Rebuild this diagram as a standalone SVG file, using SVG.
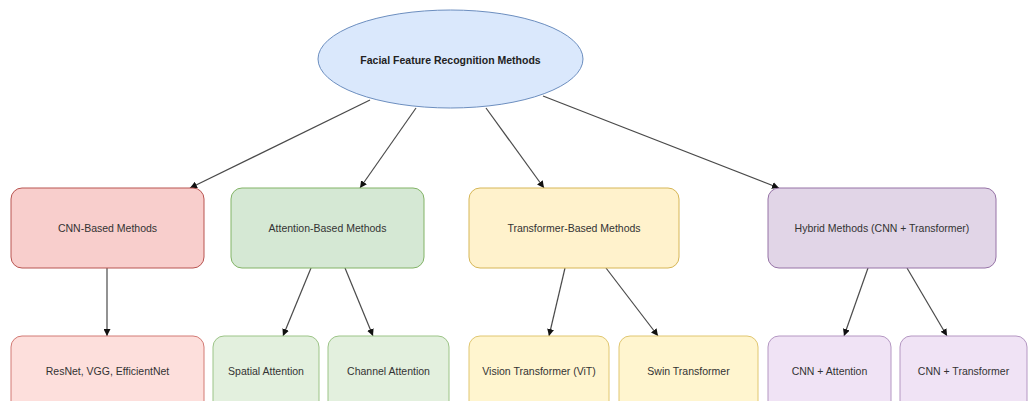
<svg xmlns="http://www.w3.org/2000/svg" width="1029" height="401" viewBox="0 0 1029 401">
  <style>
    text { font-family: "Liberation Sans", Arial, sans-serif; font-size: 10.5px; fill: #333333; text-anchor: middle; dominant-baseline: central; }
    .title { font-weight: bold; fill: #222222; }
    .edge { stroke: #4a4a4a; stroke-width: 1.2; fill: none; marker-end: url(#arrow); }
    .red { fill: #f8cecc; stroke: #b85450; }
    .red2 { fill: #fddfdc; stroke: #d27a74; }
    .green { fill: #d5e8d4; stroke: #82b366; }
    .green2 { fill: #e3f0de; stroke: #9cc487; }
    .yellow { fill: #fff2cc; stroke: #d6b656; }
    .yellow2 { fill: #fff5cf; stroke: #e0c670; }
    .purple { fill: #e1d5e7; stroke: #9673a6; }
    .purple2 { fill: #f0e3f5; stroke: #b497c2; }
    rect, ellipse { stroke-width: 1; }
  </style>
  <defs>
    <marker id="arrow" viewBox="0 0 10 10" refX="10" refY="5" markerWidth="7" markerHeight="7" markerUnits="userSpaceOnUse" orient="auto">
      <path d="M0,0 L10,5 L0,10 Z" fill="#111111"/>
    </marker>
  </defs>

  <rect width="1029" height="401" fill="#ffffff"/>

  <!-- connectors -->
  <g id="connectors">
    <line class="edge" x1="370" y1="100" x2="190" y2="188"/>
    <line class="edge" x1="416" y1="108" x2="360" y2="188"/>
    <line class="edge" x1="486" y1="108" x2="544" y2="188"/>
    <line class="edge" x1="543" y1="96" x2="779" y2="188"/>
    <line class="edge" x1="107" y1="268" x2="107" y2="336"/>
    <line class="edge" x1="311" y1="268" x2="283" y2="336"/>
    <line class="edge" x1="345" y1="268" x2="373" y2="336"/>
    <line class="edge" x1="565" y1="268" x2="549" y2="336"/>
    <line class="edge" x1="606" y1="268" x2="658" y2="336"/>
    <line class="edge" x1="868" y1="268" x2="844" y2="336"/>
    <line class="edge" x1="907" y1="268" x2="947" y2="336"/>
  </g>

  <!-- root -->
  <g id="root">
    <ellipse cx="450.5" cy="59" rx="132.5" ry="49" fill="#dae8fc" stroke="#6c8ebf"/>
    <text class="title" x="450.5" y="60">Facial Feature Recognition Methods</text>
  </g>

  <!-- first level -->
  <g id="cnn">
    <rect class="red" x="11" y="188" width="193" height="80" rx="11"/>
    <text x="107.5" y="228">CNN-Based Methods</text>
  </g>
  <g id="attention">
    <rect class="green" x="231" y="188" width="193" height="80" rx="11"/>
    <text x="327.5" y="228">Attention-Based Methods</text>
  </g>
  <g id="transformer">
    <rect class="yellow" x="469" y="188" width="210" height="80" rx="11"/>
    <text x="574" y="228">Transformer-Based Methods</text>
  </g>
  <g id="hybrid">
    <rect class="purple" x="768" y="188" width="228" height="80" rx="11"/>
    <text x="882" y="228">Hybrid Methods (CNN + Transformer)</text>
  </g>

  <!-- second level -->
  <g id="resnet">
    <rect class="red2" x="11" y="336" width="193" height="80" rx="11"/>
    <text x="107.5" y="371">ResNet, VGG, EfficientNet</text>
  </g>
  <g id="spatial">
    <rect class="green2" x="213" y="336" width="106" height="80" rx="11"/>
    <text x="266" y="371">Spatial Attention</text>
  </g>
  <g id="channel">
    <rect class="green2" x="328" y="336" width="121" height="80" rx="11"/>
    <text x="388.5" y="371">Channel Attention</text>
  </g>
  <g id="vit">
    <rect class="yellow2" x="469" y="336" width="140" height="80" rx="11"/>
    <text x="539" y="371">Vision Transformer (ViT)</text>
  </g>
  <g id="swin">
    <rect class="yellow2" x="619" y="336" width="139" height="80" rx="11"/>
    <text x="688.5" y="371">Swin Transformer</text>
  </g>
  <g id="cnn-attention">
    <rect class="purple2" x="768" y="336" width="123" height="80" rx="11"/>
    <text x="829.5" y="371">CNN + Attention</text>
  </g>
  <g id="cnn-transformer">
    <rect class="purple2" x="900" y="336" width="127" height="80" rx="11"/>
    <text x="963.5" y="371">CNN + Transformer</text>
  </g>
</svg>
